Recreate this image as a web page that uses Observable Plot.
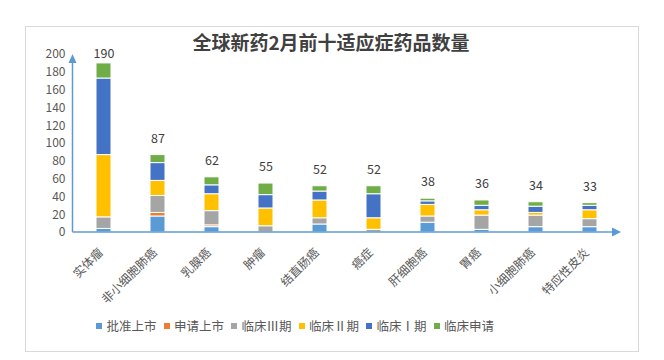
<!DOCTYPE html>
<html>
<head>
<meta charset="utf-8">
<script src="https://cdn.jsdelivr.net/npm/d3@7"></script>
<script src="https://cdn.jsdelivr.net/npm/@observablehq/plot@0.6"></script>
<style>
  html, body { margin: 0; padding: 0; background: #fff; }
  #wrap { position: relative; width: 664px; height: 360px; overflow: hidden; font-family: "Noto Sans CJK SC", "Noto Sans", sans-serif; }
  #box { position: absolute; left: 25px; top: 26px; width: 612px; height: 324px; border: 1px solid #d9d9d9; }
  #title { position: absolute; left: 0; top: 31px; width: 662px; text-align: center; font-size: 19px; line-height: 22px; font-weight: bold; color: #404040; }
  #chart { position: absolute; left: 0; top: 0; }
  #legend { position: absolute; left: 96px; top: 318px; display: flex; align-items: center; font-size: 12.5px; line-height: 15px; color: #595959; white-space: nowrap; }
  #legend .item { display: flex; align-items: center; margin-right: 7px; }
  #legend .sw { width: 6px; height: 6px; margin-right: 4.5px; }
</style>
</head>
<body>
<div id="wrap">
  <div id="box"></div>
  <div id="chart"></div>
  <div id="title">全球新药2月前十适应症药品数量</div>
  <div id="legend"></div>
</div>
<script>
const categories = ["实体瘤", "非小细胞肺癌", "乳腺癌", "肿瘤", "结直肠癌", "癌症", "肝细胞癌", "胃癌", "小细胞肺癌", "特应性皮炎"];
const seriesNames = ["批准上市", "申请上市", "临床Ⅲ期", "临床Ⅱ期", "临床Ⅰ期", "临床申请"];
const seriesColors = ["#5B9BD5", "#ED7D31", "#A5A5A5", "#FFC000", "#4472C4", "#70AD47"];
const approved   = [4, 18, 6, 0, 9, 0, 11, 3, 6, 6];
const filed      = [0, 4, 2, 0, 0, 0, 0, 0, 0, 0];
const phase3     = [13, 19, 16, 7, 7, 3, 7, 16, 13, 9];
const phase2     = [70, 17, 19, 20, 20, 13, 13, 6, 3, 10];
const phase1     = [86, 20, 10, 15, 10, 27, 4, 5, 7, 5];
const clinicalApp = [17, 9, 9, 13, 6, 9, 3, 6, 5, 3];
const yTicks = [0, 20, 40, 60, 80, 100, 120, 140, 160, 180, 200];

const seriesValues = [approved, filed, phase3, phase2, phase1, clinicalApp];
const rows = [];
seriesNames.forEach((s, si) => {
  categories.forEach((c, ci) => {
    const v = seriesValues[si][ci];
    if (v > 0) rows.push({cat: c, stage: s, value: v});
  });
});
const totals = categories.map((c, ci) => ({cat: c, total: d3.sum(seriesValues, arr => arr[ci])}));

const axisColor = "#5B9BD5";
const labelCeiling = 182; // Excel keeps the top label inside the plot area

function axesMark(index, scales, values, dims) {
  const g = d3.create("svg:g");
  const x0 = dims.marginLeft - 0.5;
  const xr = dims.width - dims.marginRight;
  const y0 = scales.y(0);
  const yt = scales.y(yTicks[yTicks.length - 1]);
  g.append("line").attr("x1", x0).attr("x2", x0).attr("y1", y0).attr("y2", yt + 6)
    .attr("stroke", axisColor).attr("stroke-width", 1.5);
  g.append("path").attr("d", `M${x0},${yt} L${x0 - 4},${yt + 9} L${x0 + 4},${yt + 9} Z`).attr("fill", axisColor);
  g.append("line").attr("x1", x0).attr("x2", xr - 6).attr("y1", y0).attr("y2", y0)
    .attr("stroke", axisColor).attr("stroke-width", 1.5);
  g.append("path").attr("d", `M${xr},${y0} L${xr - 9},${y0 - 4.5} L${xr - 9},${y0 + 4.5} Z`).attr("fill", axisColor);
  return g.node();
}

const chart = Plot.plot({
  width: 664,
  height: 310,
  marginTop: 54,
  marginBottom: 78,
  marginLeft: 73,
  marginRight: 43,
  style: {fontFamily: "'Noto Sans CJK SC', 'Noto Sans', sans-serif", background: "transparent", overflow: "visible"},
  x: {domain: categories, paddingInner: 0.72, paddingOuter: 0.36, label: null},
  y: {domain: [0, 200], label: null},
  color: {domain: seriesNames, range: seriesColors},
  marks: [
    Plot.axisY({ticks: yTicks, tickSize: 0, tickPadding: 8, fontSize: 12, color: "#595959", label: null}),
    Plot.axisX({tickRotate: -45, tickSize: 0, tickPadding: 18, fontSize: 12, color: "#595959", label: null, dx: -3}),
    Plot.barY(rows, {x: "cat", y: "value", fill: "stage", stroke: "white", strokeWidth: 1, order: seriesNames}),
    Plot.text(totals, {x: "cat", y: d => Math.min(d.total, labelCeiling), text: d => String(d.total), dy: -16.5, fontSize: 12.5, fill: "#404040"}),
    axesMark
  ]
});
document.getElementById("chart").appendChild(chart);

const legend = document.getElementById("legend");
seriesNames.forEach((s, i) => {
  const item = document.createElement("div");
  item.className = "item";
  const sw = document.createElement("span");
  sw.className = "sw";
  sw.style.background = seriesColors[i];
  const t = document.createElement("span");
  t.textContent = s;
  item.appendChild(sw);
  item.appendChild(t);
  legend.appendChild(item);
});
</script>
</body>
</html>
